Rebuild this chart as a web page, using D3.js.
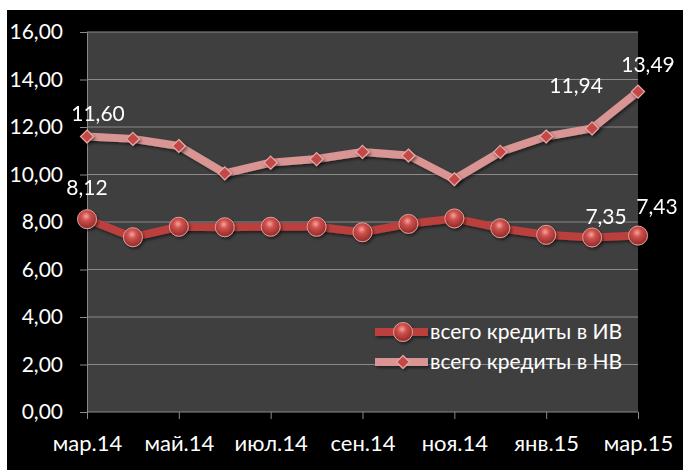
<!DOCTYPE html>
<html><head><meta charset="utf-8">
<script src="https://cdn.jsdelivr.net/npm/d3@7"></script>
<style>
html,body{margin:0;padding:0;background:#fff;}
svg{display:block;}
text{font-family:Lato,"Open Sans",sans-serif;fill:#fff;font-weight:400;}
</style></head>
<body>
<svg id="c" width="683" height="471"></svg>
<script>
// ---- data ----
const months = ["мар.14","апр.14","май.14","июн.14","июл.14","авг.14","сен.14","окт.14","ноя.14","дек.14","янв.15","фев.15","мар.15"];
const tickMonths = ["мар.14","май.14","июл.14","сен.14","ноя.14","янв.15","мар.15"];
const seriesIV = [8.12, 7.36, 7.80, 7.78, 7.80, 7.80, 7.57, 7.92, 8.15, 7.74, 7.46, 7.35, 7.43];
const seriesNV = [11.60, 11.50, 11.20, 10.05, 10.50, 10.65, 10.95, 10.80, 9.80, 10.95, 11.60, 11.94, 13.49];
const seriesNames = ["всего кредиты в ИВ", "всего кредиты в НВ"];
const yTicks = [0, 2, 4, 6, 8, 10, 12, 14, 16];
// labelled points: [series index, point index]
const labelled = [[0,0],[0,11],[0,12],[1,0],[1,11],[1,12]];

// ---- style / layout ----
const labelOffsets = {"0-0":[0,-24],"0-11":[14,-13],"0-12":[19,-22],"1-0":[11,-16],"1-11":[-16,-35],"1-12":[10,-20]};
const svg = d3.select("#c");
const W = 683, H = 471;
const plot = {l:87, r:638, t:32, b:412};
const fmt = v => d3.format(".2f")(v).replace(".", ",");

svg.append("rect").attr("x",7).attr("y",10).attr("width",W-7).attr("height",460).attr("fill","#000");

const x = d3.scalePoint().domain(months).range([plot.l, plot.r]);
const y = d3.scaleLinear().domain([0,16]).range([plot.b, plot.t]);

svg.append("rect").attr("x",plot.l).attr("y",plot.t).attr("width",plot.r-plot.l).attr("height",plot.b-plot.t).attr("fill","#3f3f3f");

const defs = svg.append("defs");
const rg = defs.append("radialGradient").attr("id","ball").attr("cx","45%").attr("cy","35%").attr("r","65%");
rg.append("stop").attr("offset","0%").attr("stop-color","#f2a5a2");
rg.append("stop").attr("offset","35%").attr("stop-color","#d0514d");
rg.append("stop").attr("offset","100%").attr("stop-color","#8e2a28");
const f = defs.append("filter").attr("id","sh").attr("filterUnits","userSpaceOnUse")
  .attr("x",-W).attr("y",-H).attr("width",3*W).attr("height",3*H);
f.append("feDropShadow").attr("dx",1.5).attr("dy",2).attr("stdDeviation",1.5).attr("flood-color","#000").attr("flood-opacity",0.5);

// y axis with gridlines
const yAxis = d3.axisLeft(y).tickValues(yTicks).tickSize(7).tickPadding(17).tickFormat(fmt);
const gy = svg.append("g").attr("transform",`translate(${plot.l},0)`).call(yAxis);
gy.attr("font-family",null).attr("font-size",null);
gy.select(".domain").attr("stroke","#8a8a8a");
gy.selectAll(".tick line").attr("stroke","#8a8a8a");
gy.selectAll("text").attr("font-size",21).attr("fill","#fff");
svg.append("g").selectAll("line").data(yTicks.filter(d=>d>0)).join("line")
  .attr("x1",plot.l).attr("x2",plot.r).attr("y1",d=>y(d)).attr("y2",d=>y(d))
  .attr("stroke","#8a8a8a").attr("stroke-width",1);

// x axis
const xAxis = d3.axisBottom(x).tickValues(tickMonths).tickSize(7).tickPadding(16);
const gx = svg.append("g").attr("transform",`translate(0,${plot.b})`).call(xAxis);
gx.attr("font-family",null).attr("font-size",null);
gx.select(".domain").attr("stroke","#8a8a8a").attr("d",`M${plot.l},0H${plot.r}`);
gx.selectAll(".tick line").attr("stroke","#8a8a8a");
gx.selectAll("text").attr("font-size",22).attr("fill","#fff");

const line = d3.line().x((d,i)=>x(months[i])).y(d=>y(d));

// diamond marker path (square rotated)
const dm = 6.5;
const diamondPath = `M0,${-dm}L${dm},0L0,${dm}L${-dm},0Z`;

// NV series
svg.append("path").datum(seriesNV).attr("d",line).attr("fill","none")
  .attr("stroke","#d99593").attr("stroke-width",8).attr("stroke-linejoin","round").attr("filter","url(#sh)");
svg.append("g").attr("filter","url(#sh)").selectAll("path").data(seriesNV).join("path")
  .attr("d",diamondPath).attr("transform",(d,i)=>`translate(${x(months[i])},${y(d)})`)
  .attr("fill","#c24a47").attr("stroke","#e8a9a7").attr("stroke-width",1.2);

// IV series
svg.append("path").datum(seriesIV).attr("d",line).attr("fill","none")
  .attr("stroke","#bb3f3c").attr("stroke-width",8).attr("stroke-linejoin","round").attr("filter","url(#sh)");
svg.append("g").attr("filter","url(#sh)").selectAll("circle").data(seriesIV).join("circle")
  .attr("cx",(d,i)=>x(months[i])).attr("cy",d=>y(d)).attr("r",9.5)
  .attr("fill","url(#ball)").attr("stroke","#e59d9a").attr("stroke-width",1);

// data labels
const series = [seriesIV, seriesNV];
svg.append("g").selectAll("text").data(labelled).join("text")
  .attr("x",d=>x(months[d[1]]) + labelOffsets[d[0]+"-"+d[1]][0])
  .attr("y",d=>y(series[d[0]][d[1]]) + labelOffsets[d[0]+"-"+d[1]][1])
  .attr("text-anchor","middle").attr("font-size",21)
  .text(d=>fmt(series[d[0]][d[1]]));

// legend
const lg = svg.append("g");
const legY = [332, 362];
const lgSym = lg.append("g").attr("filter","url(#sh)");
lgSym.append("line").attr("x1",375).attr("x2",428).attr("y1",legY[0]).attr("y2",legY[0])
  .attr("stroke","#bb3f3c").attr("stroke-width",8);
lgSym.append("circle").attr("cx",403).attr("cy",legY[0]).attr("r",9.5)
  .attr("fill","url(#ball)").attr("stroke","#e59d9a").attr("stroke-width",1);
lgSym.append("line").attr("x1",375).attr("x2",428).attr("y1",legY[1]).attr("y2",legY[1])
  .attr("stroke","#d99593").attr("stroke-width",8);
lgSym.append("path").attr("d",diamondPath).attr("transform",`translate(403,${legY[1]})`)
  .attr("fill","#c24a47").attr("stroke","#e8a9a7").attr("stroke-width",1.2);
lg.selectAll("text").data(seriesNames).join("text")
  .attr("x",430).attr("y",(d,i)=>legY[i]+7).attr("font-size",21).text(d=>d);
</script>
</body></html>
